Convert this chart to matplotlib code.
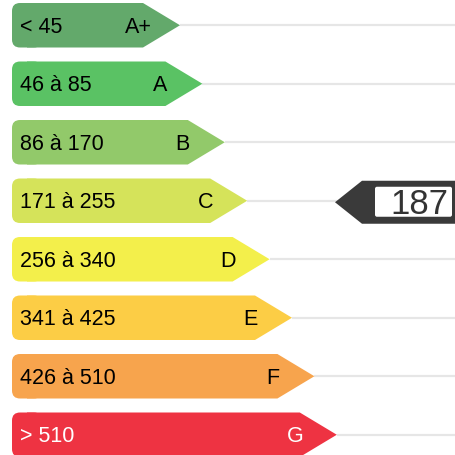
import matplotlib
matplotlib.use("Agg")
import matplotlib.pyplot as plt
from matplotlib.patches import Polygon, FancyBboxPatch

# energy classes
ranges = ["< 45", "46 à 85", "86 à 170", "171 à 255", "256 à 340", "341 à 425", "426 à 510", "> 510"]
letters = ["A+", "A", "B", "C", "D", "E", "F", "G"]
colors = ["#63a96b", "#5ac264", "#92c96a", "#d5e35a", "#f3ef4b", "#fccd45", "#f7a44d", "#ee3342"]
text_colors = ["black"] * 7 + ["white"]
value = 187
value_class = "C"

plt.rcParams["font.family"] = ["Liberation Sans", "DejaVu Sans"]

fig = plt.figure(figsize=(4.56, 4.56), dpi=100)
ax = fig.add_axes([0, 0, 1, 1])
ax.set_xlim(0, 456)
ax.set_ylim(456, 0)
ax.axis("off")

left = 12
pitch = 58.5
h = 44.5
arrow = 37
for i, (rng, let) in enumerate(zip(ranges, letters)):
    top = 4 + pitch * i
    cy = top + h / 2
    body = 143 + 22.4 * i
    tip = body + arrow
    ax.plot([tip, 456], [cy, cy], color="#e6e6e6", lw=1.6, zorder=1, solid_capstyle="butt")
    ax.add_patch(FancyBboxPatch((left, top), 30, h, boxstyle="round,pad=0,rounding_size=8",
                                fc=colors[i], ec="none", zorder=2))
    ax.add_patch(Polygon([(left + 15, top), (body, top), (tip, cy), (body, top + h), (left + 15, top + h)],
                         closed=True, fc=colors[i], ec="none", zorder=2))
    ax.text(20, cy + 1, rng, fontsize=15.5, color=text_colors[i], ha="left", va="center", zorder=3)
    ax.text(tip - 42, cy + 1, let, fontsize=15.5, color=text_colors[i], ha="center", va="center", zorder=3)

# current value marker
k = letters.index(value_class)
cy = 4 + pitch * k + h / 2 + 1.5
dark = "#3a3a3a"
ax.add_patch(Polygon([(335, cy), (362, cy - 21.5), (460, cy - 21.5), (460, cy + 21.5), (362, cy + 21.5)],
                     closed=True, fc=dark, ec="none", zorder=4))
ax.add_patch(FancyBboxPatch((375, cy - 15.5), 77, 30, boxstyle="round,pad=0,rounding_size=2",
                            fc="white", ec="none", zorder=5))
ax.text(419, cy + 1, str(value), fontsize=25, color="#333333", ha="center", va="center", zorder=6)

fig.savefig("out.png", dpi=100)
